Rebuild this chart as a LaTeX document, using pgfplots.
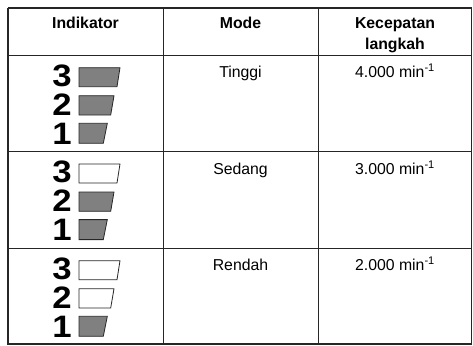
\documentclass[border=0pt]{standalone}
\usepackage{pgfplots}
\pgfplotsset{compat=1.18}
\usepackage{fontspec}
\setmainfont{Liberation Sans}
\definecolor{lineC}{HTML}{262626}
\definecolor{barC}{HTML}{808080}
\newcommand{\dg}[1]{\scalebox{1.12}[1]{#1}}
\tikzset{
  dig/.style={anchor=base east, inner sep=0pt, font=\fontsize{31}{31}\selectfont\bfseries},
  hd/.style={anchor=base, inner sep=0pt, font=\fontsize{15.8}{18}\selectfont\bfseries},
  bd/.style={anchor=base, inner sep=0pt, font=\fontsize{15.8}{18}\selectfont},
}
\begin{document}
\begin{tikzpicture}
\begin{axis}[
  scale only axis, width=473pt, height=345pt,
  xmin=0, xmax=473, ymin=0, ymax=345, y dir=reverse,
  hide axis, clip=false,
]
\addplot[draw=none] coordinates {(0,0) (473,345)};
% table grid
\addplot[lineC, line width=1.3pt] coordinates {(8,8) (471.5,8) (471.5,344) (8,344) (8,8)};
\addplot[lineC, line width=1pt] coordinates {(8,55) (471.5,55)};
\addplot[lineC, line width=1pt] coordinates {(8,151.5) (471.5,151.5)};
\addplot[lineC, line width=1pt] coordinates {(8,248) (471.5,248)};
\addplot[lineC, line width=1pt] coordinates {(163.3,8) (163.3,344)};
\addplot[lineC, line width=1pt] coordinates {(318,8) (318,344)};
% header
\node[hd] at (axis cs:85.5,29) {Indikator};
\node[hd] at (axis cs:240.5,29) {Mode};
\node[hd] at (axis cs:395,29) {Kecepatan};
\node[hd] at (axis cs:395,49) {langkah};
% body text
\node[bd] at (axis cs:240.5,77) {Tinggi};
\node[bd] at (axis cs:240.5,174) {Sedang};
\node[bd] at (axis cs:240.5,270) {Rendah};
\node[bd] at (axis cs:395,77) {4.000 min\textsuperscript{-1}};
\node[bd] at (axis cs:395,174) {3.000 min\textsuperscript{-1}};
\node[bd] at (axis cs:395,270) {2.000 min\textsuperscript{-1}};
% digits
\node[dig] at (axis cs:72,86) {\dg{3}};
\node[dig] at (axis cs:72,115) {\dg{2}};
\node[dig] at (axis cs:72,144) {\dg{1}};
\node[dig] at (axis cs:72,182.3) {\dg{3}};
\node[dig] at (axis cs:72,211.3) {\dg{2}};
\node[dig] at (axis cs:72,240.3) {\dg{1}};
\node[dig] at (axis cs:72,279) {\dg{3}};
\node[dig] at (axis cs:72,308) {\dg{2}};
\node[dig] at (axis cs:72,337) {\dg{1}};
% row 1 bars (all on)
\addplot[fill=barC, draw=lineC, line width=0.8pt] coordinates {(79,67.7) (120,67.7) (117,86.7) (79,86.7)} -- cycle;
\addplot[fill=barC, draw=lineC, line width=0.8pt] coordinates {(79,95.7) (114,95.7) (110.7,115) (79,115)} -- cycle;
\addplot[fill=barC, draw=lineC, line width=0.8pt] coordinates {(79,123.3) (107.3,123.3) (103.3,143.3) (79,143.3)} -- cycle;
% row 2 bars (3 off)
\addplot[fill=white, draw=lineC, line width=0.8pt] coordinates {(79,164) (120,164) (117,183) (79,183)} -- cycle;
\addplot[fill=barC, draw=lineC, line width=0.8pt] coordinates {(79,192) (114,192) (110.7,211.3) (79,211.3)} -- cycle;
\addplot[fill=barC, draw=lineC, line width=0.8pt] coordinates {(79,219.6) (107.3,219.6) (103.3,239.6) (79,239.6)} -- cycle;
% row 3 bars (3,2 off)
\addplot[fill=white, draw=lineC, line width=0.8pt] coordinates {(79,260.7) (120,260.7) (117,279.7) (79,279.7)} -- cycle;
\addplot[fill=white, draw=lineC, line width=0.8pt] coordinates {(79,288.7) (114,288.7) (110.7,308) (79,308)} -- cycle;
\addplot[fill=barC, draw=lineC, line width=0.8pt] coordinates {(79,316.3) (107.3,316.3) (103.3,336.3) (79,336.3)} -- cycle;
\end{axis}
\end{tikzpicture}
\end{document}
